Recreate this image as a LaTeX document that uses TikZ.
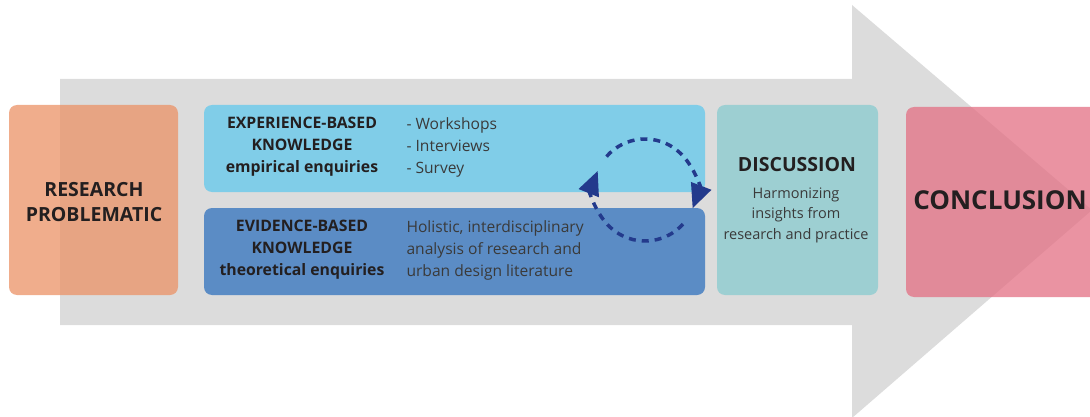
\documentclass[tikz,border=0pt]{standalone}
\usepackage{fontspec}
\setmainfont{Open Sans}
\usetikzlibrary{arrows.meta}

\definecolor{arrowgray}{HTML}{DCDCDC}
\definecolor{researchc}{HTML}{EB9266}
\definecolor{experiencec}{HTML}{80CDE8}
\definecolor{evidencec}{HTML}{5B8CC5}
\definecolor{discussionc}{HTML}{9DCFD2}
\definecolor{conclusionc}{HTML}{E36F83}
\definecolor{loopc}{HTML}{233A8C}
\definecolor{darktext}{HTML}{231F20}
\definecolor{bodytext}{HTML}{3A3A3A}

\begin{document}
\begin{tikzpicture}[x=1pt, y=1pt,
        card/.style={rounded corners=8pt, inner sep=0pt},
        head/.style={font=\fontsize{15.8}{22}\selectfont\bfseries, text=darktext, align=center},
        body/.style={font=\fontsize{15.6}{22}\selectfont, text=bodytext, align=left, anchor=west},
        loopline/.style={loopc, line width=3.5pt, dash pattern=on 7pt off 6pt,
            -{Triangle[length=24pt, width=21pt]}}]
    \useasboundingbox (0,0) rectangle (1090,416);

    % big gray arrow behind everything
    \fill[arrowgray] (60,337) -- (852,337) -- (852,411) -- (1092,206)
        -- (852,-2) -- (852,91) -- (60,91) -- cycle;

    % the stages
    \node[card, fill=researchc, fill opacity=0.75, minimum width=169pt, minimum height=190pt] (research) at (93.5,216) {};
    \node[card, fill=experiencec, minimum width=501pt, minimum height=87pt] (experience) at (454.5,267.5) {};
    \node[card, fill=evidencec, minimum width=501pt, minimum height=87pt] (evidence) at (454.5,164.5) {};
    \node[card, fill=discussionc, minimum width=161pt, minimum height=190pt] (discussion) at (797.5,216) {};
    \node[card, fill=conclusionc, fill opacity=0.75, minimum width=224pt, minimum height=190pt] (conclusion) at (1018,214) {};

    % texts
    \node[head, font=\fontsize{19.5}{25}\selectfont\bfseries] (researchtext) at (94,214) {RESEARCH\\PROBLEMATIC};
    \node[head] (experiencetext) at (302,269) {EXPERIENCE-BASED\\KNOWLEDGE\\empirical enquiries};
    \node[body] (methods) at (403,269) {- Workshops\\- Interviews\\- Survey};
    \node[head] (evidencetext) at (302,166) {EVIDENCE-BASED\\KNOWLEDGE\\theoretical enquiries};
    \node[body] (literature) at (403,166) {Holistic, interdisciplinary\\analysis of research and\\urban design literature};
    \node[head, font=\fontsize{19.5}{22}\selectfont\bfseries] (discussiontext) at (797,251) {DISCUSSION};
    \node[align=center, text=bodytext, font=\fontsize{14.5}{20.5}\selectfont] (harmonize) at (796,201)
        {Harmonizing\\insights from\\research and practice};
    \node[head, font=\fontsize{26}{30}\selectfont\bfseries] (conclusiontext) at (1000,216) {CONCLUSION};

    % dashed loop between the two kinds of knowledge
    \coordinate (loop) at (645,226);
    \draw[loopline] ([shift={(139:51pt)}]loop) arc[start angle=139, end angle=-21, radius=51pt];
    \draw[loopline] ([shift={(-42:51pt)}]loop) arc[start angle=-42, end angle=-202, radius=51pt];
\end{tikzpicture}
\end{document}
